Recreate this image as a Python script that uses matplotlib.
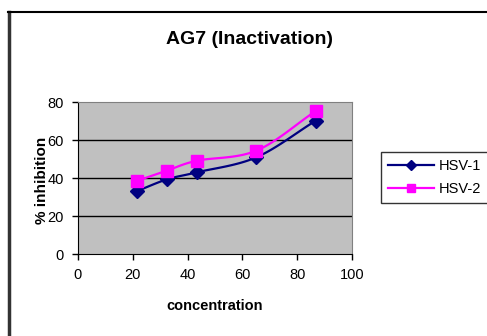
import numpy as np
from matplotlib import pyplot as plt
from matplotlib.lines import Line2D

plt.rcParams['font.family'] = ['Liberation Sans', 'DejaVu Sans']

concentration = [21.7, 32.5, 43.4, 65.1, 86.8]
hsv1 = [33.2, 39.3, 43.0, 50.9, 70.2]
hsv2 = [38.6, 43.9, 49.1, 54.4, 75.3]
x_ticks = [0, 20, 40, 60, 80, 100]
y_ticks = [0, 20, 40, 60, 80]


def smooth(xs, ys, n=30):
    # Catmull-Rom curve through the points, like Excel's smoothed line
    p = np.column_stack([xs, ys]).astype(float)
    p = np.vstack([2 * p[0] - p[1], p, 2 * p[-1] - p[-2]])
    out = []
    t = np.linspace(0, 1, n)[:, None]
    for i in range(1, len(p) - 2):
        p0, p1, p2, p3 = p[i - 1], p[i], p[i + 1], p[i + 2]
        seg = 0.5 * ((2 * p1) + (-p0 + p2) * t + (2 * p0 - 5 * p1 + 4 * p2 - p3) * t ** 2
                     + (-p0 + 3 * p1 - 3 * p2 + p3) * t ** 3)
        out.append(seg)
    out = np.vstack(out)
    return out[:, 0], out[:, 1]


fig = plt.figure(figsize=(4.87, 3.36), dpi=100)
ax = fig.add_axes([78 / 487, 1 - 254 / 336, 274 / 487, 152 / 336])
ax.set_facecolor('#C0C0C0')

sx, sy = smooth(concentration, hsv1)
ax.plot(sx, sy, color='#000080', lw=1.6, zorder=3)
ax.plot(concentration, hsv1, ls='none', marker='D', ms=7, color='#000080', zorder=4)
sx, sy = smooth(concentration, hsv2)
ax.plot(sx, sy, color='#FF00FF', lw=1.6, zorder=3)
ax.plot(concentration, hsv2, ls='none', marker='s', ms=8, color='#FF00FF', zorder=4)

ax.set_xlim(0, 100)
ax.set_ylim(0, 80)
ax.set_xticks(x_ticks)
ax.set_yticks(y_ticks)
ax.tick_params(labelsize=10.5, length=4, width=1, color='black', pad=6)
for y in y_ticks[1:-1]:
    ax.axhline(y, color='black', lw=1, zorder=1)
for s in ['top', 'right']:
    ax.spines[s].set_color('#808080')
for s in ['left', 'bottom']:
    ax.spines[s].set_color('black')

fig.text(250 / 487, 1 - 40 / 336, 'AG7 (Inactivation)', fontsize=14, fontweight='bold',
         ha='center', va='center')
fig.text(42 / 487, 1 - 180 / 336, '% inhibition', fontsize=11, fontweight='bold',
         rotation=90, ha='center', va='center')
fig.text(215 / 487, 1 - 306 / 336, 'concentration', fontsize=10.5, fontweight='bold',
         ha='center', va='center')

handles = [Line2D([], [], color='#000080', marker='D', ms=5, lw=1.6),
           Line2D([], [], color='#FF00FF', marker='s', ms=6, lw=1.6)]
leg = fig.legend(handles, ['HSV-1', 'HSV-2'], loc='center',
                 bbox_to_anchor=(384 / 487, 1 - 203 / 336, 101 / 487, 51 / 336),
                 fontsize=10.5, frameon=True, fancybox=False, edgecolor='black',
                 handlelength=3.2, borderpad=0.5, labelspacing=0.6, handletextpad=0.3)
leg.get_frame().set_linewidth(1)

# outer chart frame (left and top edges are visible)
fig.add_artist(Line2D([9 / 487, 9 / 487], [0, 1 - 12 / 336], color='#333333', lw=2.5))
fig.add_artist(Line2D([8 / 487, 1], [1 - 12 / 336, 1 - 12 / 336], color='black', lw=1.5))

fig.savefig('out.png', dpi=100)
